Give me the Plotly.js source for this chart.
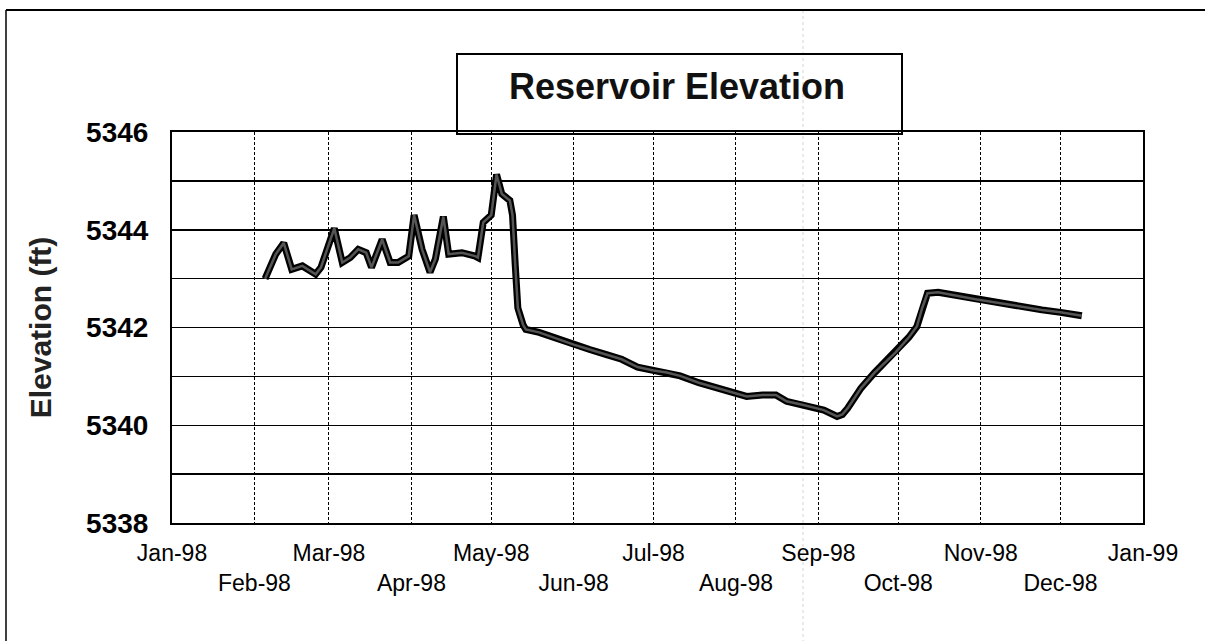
<!DOCTYPE html>
<html>
<head>
<meta charset="utf-8">
<script src="https://cdn.plot.ly/plotly-3.0.1.min.js"></script>
<style>html,body{margin:0;padding:0;background:#fff;}#chart{width:1205px;height:641px;}</style>
</head>
<body>
<div id="chart"></div>
<script>
// ---- data ----
const dates = [
  '1998-02-05','1998-02-09','1998-02-12','1998-02-15','1998-02-19','1998-02-21','1998-02-24','1998-02-26',
  '1998-03-03','1998-03-06','1998-03-09','1998-03-12','1998-03-15','1998-03-17','1998-03-21','1998-03-24',
  '1998-03-27','1998-03-31','1998-04-02','1998-04-05','1998-04-08','1998-04-10','1998-04-13','1998-04-15',
  '1998-04-20','1998-04-25','1998-04-26','1998-04-28','1998-05-01','1998-05-03','1998-05-05','1998-05-08',
  '1998-05-09','1998-05-10','1998-05-11','1998-05-13','1998-05-14','1998-05-19','1998-05-25','1998-06-01',
  '1998-06-07','1998-06-13','1998-06-19','1998-06-25','1998-07-01','1998-07-06','1998-07-11','1998-07-18',
  '1998-07-26','1998-08-05','1998-08-11','1998-08-16','1998-08-20','1998-08-26','1998-09-03','1998-09-08',
  '1998-09-10','1998-09-12','1998-09-17','1998-09-22','1998-09-30','1998-10-05','1998-10-08','1998-10-10',
  '1998-10-12','1998-10-16','1998-10-30','1998-11-11','1998-11-24','1998-12-01','1998-12-09'
];
const elevation = [
  5343.00,5343.50,5343.73,5343.19,5343.26,5343.19,5343.09,5343.23,
  5344.03,5343.33,5343.43,5343.60,5343.53,5343.23,5343.80,5343.33,
  5343.33,5343.46,5344.30,5343.60,5343.13,5343.40,5344.27,5343.50,
  5343.53,5343.46,5343.43,5344.15,5344.30,5345.13,5344.73,5344.60,
  5344.30,5343.30,5342.40,5342.05,5341.96,5341.90,5341.78,5341.65,
  5341.55,5341.45,5341.35,5341.19,5341.12,5341.08,5341.01,5340.87,
  5340.74,5340.59,5340.62,5340.62,5340.49,5340.42,5340.31,5340.18,
  5340.22,5340.35,5340.76,5341.07,5341.49,5341.80,5342.02,5342.40,
  5342.70,5342.72,5342.58,5342.47,5342.36,5342.31,5342.24
];
const monthTicks = ['1998-01-01','1998-02-01','1998-03-01','1998-04-01','1998-05-01','1998-06-01','1998-07-01',
  '1998-08-01','1998-09-01','1998-10-01','1998-11-01','1998-12-01','1999-01-01'];
const monthLabels = ['Jan-98','Feb-98','Mar-98','Apr-98','May-98','Jun-98','Jul-98',
  'Aug-98','Sep-98','Oct-98','Nov-98','Dec-98','Jan-99'];
const chartTitle = 'Reservoir Elevation';
const yTitle = 'Elevation (ft)';

// staggered labels: odd months on a second row
const staggered = monthLabels.map((t, i) => i % 2 === 0 ? t : ' <br>' + t);

const traces = [
  {x: dates, y: elevation, type: 'scatter', mode: 'lines',
   line: {color: '#000', width: 7}, hoverinfo: 'skip'},
  {x: dates, y: elevation, type: 'scatter', mode: 'lines',
   line: {color: '#555', width: 2.5}, name: 'Elevation'}
];

const layout = {
  width: 1205, height: 641,
  margin: {l: 172, r: 62, t: 132, b: 118},
  paper_bgcolor: '#fff', plot_bgcolor: '#fff',
  showlegend: false,
  font: {family: 'Liberation Sans, Arial, sans-serif', color: '#000'},
  title: {text: chartTitle, font: {size: 36, family: 'Liberation Sans, Arial, sans-serif', weight: 'bold', color: '#111'},
          x: 677 / 1205, xref: 'container', xanchor: 'center', y: 1 - 86 / 641, yref: 'container', yanchor: 'middle'},
  xaxis: {
    type: 'date', range: ['1998-01-01', '1999-01-01'],
    tickmode: 'array', tickvals: monthTicks, ticktext: staggered, tickangle: 0,
    tickfont: {size: 23, color: '#000'}, ticks: '', ticklabelstandoff: 8,
    showgrid: true, gridcolor: '#000', gridwidth: 1, griddash: '3px,2px',
    showline: true, linecolor: '#000', linewidth: 2, mirror: true, zeroline: false, fixedrange: true
  },
  yaxis: {
    range: [5338, 5346], dtick: 2, tick0: 5338,
    tickfont: {size: 28, weight: 'bold', color: '#000'}, ticks: '', ticklabelstandoff: 16,
    showgrid: true, gridcolor: '#000', gridwidth: 1.5,
    minor: {dtick: 1, showgrid: true, gridcolor: '#000', gridwidth: 1.5},
    showline: true, linecolor: '#000', linewidth: 2, mirror: true, zeroline: false,
    title: {text: yTitle, font: {size: 30, weight: 'bold', color: '#222'}, standoff: 26},
    fixedrange: true
  },
  shapes: [
    // title box
    {type: 'rect', xref: 'paper', yref: 'paper',
     x0: (457 - 172) / 971, x1: (902 - 172) / 971, y0: (523 - 134) / 391, y1: (523 - 54) / 391,
     line: {color: '#000', width: 2}, fillcolor: 'rgba(0,0,0,0)', layer: 'above'},
    // outer frame: top and left edges
    {type: 'line', xref: 'paper', yref: 'paper',
     x0: (6 - 172) / 971, x1: (1205 - 172) / 971, y0: (523 - 10) / 391, y1: (523 - 10) / 391,
     line: {color: '#000', width: 2}},
    {type: 'line', xref: 'paper', yref: 'paper',
     x0: (6 - 172) / 971, x1: (6 - 172) / 971, y0: (523 - 10) / 391, y1: (523 - 641) / 391,
     line: {color: '#000', width: 1.5}},
    // faint fold line from the scan
    {type: 'line', xref: 'paper', yref: 'paper',
     x0: (803 - 172) / 971, x1: (803 - 172) / 971, y0: (523 - 10) / 391, y1: (523 - 641) / 391,
     line: {color: '#d4d4d4', width: 1, dash: 'dot'}, layer: 'below'}
  ]
};

Plotly.newPlot('chart', traces, layout, {displayModeBar: false, staticPlot: true});
</script>
</body>
</html>
